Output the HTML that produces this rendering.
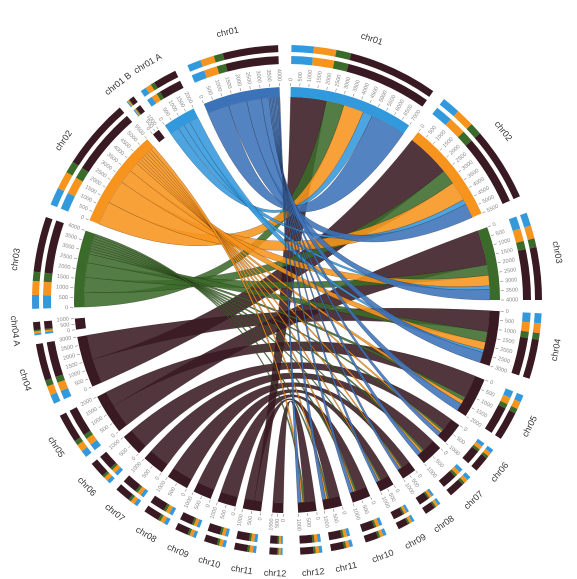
<!DOCTYPE html>
<html><head><meta charset="utf-8">
<style>
html,body{margin:0;padding:0;background:#fff;}
svg{display:block;font-family:"Liberation Sans",sans-serif;}
</style></head>
<body>
<svg id="chart" width="577" height="579" viewBox="0 0 577 579" xmlns="http://www.w3.org/2000/svg"></svg>
<script>
const segNames = ["chr01","chr02","chr03","chr04","chr05","chr06","chr07","chr08","chr09","chr10","chr11","chr12",
 "chr12","chr11","chr10","chr09","chr08","chr07","chr06","chr05","chr04","chr04 A","chr03","chr02","chr01 B","chr01 A","chr01"];
const segStart = [1,38,70,93,112,126,134,143,150,157,165,172, 181,187,194,201,208,216,224,232,246,262,268,292,321,325,337];
const segEnd   = [35,66,90,108,123,132,140,147,154,162,170,177, 184,192,199,206,214,222,230,243,260,265,289,319,323,334,358];
const segColor = ["#3399dd","#f7941d","#3b6b2a","#3a1a22","#3a1a22","#3a1a22","#3a1a22","#3a1a22","#3a1a22","#3a1a22","#3a1a22","#3a1a22",
 "#3a1a22","#3a1a22","#3a1a22","#3a1a22","#3a1a22","#3a1a22","#3a1a22","#3a1a22","#3a1a22","#3a1a22","#3b6b2a","#f7941d","#3a1a22","#3399dd","#3b72b8"];
const linkSrc  = [0,1,2,3,4,5,6,7,8,9,10,11, 0,1,2,3,4,5,6,7,8,9,10,11, 0,1,2,3,4,5,6,7,8,9,10,11, 0,1,2,3, 0,1,2,3,4,5,6,7,8,9,10,11];
const linkSrcA = [0,0,0,0,0,0,0,0,0,0,0,0, 0.3,0.45,0.5,0.4,0.6,0.6,0.6,0.6,0.6,0.6,0.6,0.6, 0.45,0.6,0.65,0.6,0.7,0.7,0.7,0.7,0.7,0.7,0.7,0.7, 0.62,0.8,0.8,0.75, 0.7,0.85,0.85,0.8,0.8,0.8,0.8,0.8,0.8,0.8,0.8,0.8];
const linkSrcB = [0.3,0.45,0.5,0.4,0.6,0.6,0.6,0.6,0.6,0.6,0.6,0.6, 0.45,0.6,0.65,0.6,0.7,0.7,0.7,0.7,0.7,0.7,0.7,0.7, 0.62,0.8,0.8,0.75,0.8,0.8,0.8,0.8,0.8,0.8,0.8,0.8, 0.7,0.85,0.85,0.8, 1,1,1,1,1,1,1,1,1,1,1,1];
const linkTgt  = [13,20,19,20,19,18,17,16,15,14,13,12, 22,22,22,22,22,22,22,22,22,22,22,22, 23,23,23,23,23,23,23,23,23,23,23,23, 25,25,25,25, 26,26,26,26,26,26,26,26,26,26,26,26];
const linkTgtA = [0,0,0,0.5,0.6,0,0,0,0,0,0.45,0, 0,0.2,0.4,0.6,0.72,0.76,0.795,0.83,0.865,0.9,0.935,0.97, 0,0.25,0.5,0.65,0.75,0.78,0.81,0.84,0.87,0.9,0.93,0.96, 0,0.3,0.5,0.7, 0,0.3,0.55,0.75,0.85,0.87,0.89,0.91,0.93,0.95,0.97,0.985];
const linkTgtB = [0.45,0.5,0.6,1,1,1,1,1,1,1,1,1, 0.2,0.4,0.6,0.72,0.76,0.795,0.83,0.865,0.9,0.935,0.97,1, 0.25,0.5,0.65,0.75,0.78,0.81,0.84,0.87,0.9,0.93,0.96,1, 0.3,0.5,0.7,1, 0.3,0.55,0.75,0.85,0.87,0.89,0.91,0.93,0.95,0.97,0.985,1];
const linkKind = ["M","M","M","M","M","M","M","M","M","M","M","M", "G","G","G","G","G","G","G","G","G","G","G","G", "O","O","O","O","O","O","O","O","O","O","O","O", "L","L","L","L", "B","B","B","B","B","B","B","B","B","B","B","B"];
const kindColor = {M:"#3a1a22",G:"#3b6b2a",O:"#f7941d",L:"#3399dd",B:"#3b72b8"};
const ringColors = ["#3399dd","#f7941d","#3b6b2a","#3a1a22"];
const ringBreaks = [0,0.15,0.3,0.4,1];

const svg = document.getElementById('chart');
const NS = "http://www.w3.org/2000/svg";
const cx = 287, cy = 300, R = 203;
function pt(a, r){ const t=(a-90)*Math.PI/180; return [cx+r*Math.cos(t), cy+r*Math.sin(t)]; }
function arcPath(a1,a2,r1,r2){
  const p1=pt(a1,r2),p2=pt(a2,r2),p3=pt(a2,r1),p4=pt(a1,r1);const lg=(a2-a1)>180?1:0;
  return `M${p1}A${r2},${r2} 0 ${lg} 1 ${p2}L${p3}A${r1},${r1} 0 ${lg} 0 ${p4}Z`;
}
function add(tag, attrs){ const e=document.createElementNS(NS,tag); for(const k in attrs) e.setAttribute(k,attrs[k]); svg.appendChild(e); return e; }
function segAngle(i,f){ return segStart[i]+(segEnd[i]-segStart[i])*f; }

const order = [];
for(let i=0;i<linkSrc.length;i++) if(linkKind[i]==="M") order.push(i);
for(let i=0;i<linkSrc.length;i++) if(linkKind[i]!=="M") order.push(i);
for(const i of order){
  const a1=segAngle(linkSrc[i],linkSrcA[i]), a2=segAngle(linkSrc[i],linkSrcB[i]);
  const b1=segAngle(linkTgt[i],linkTgtA[i]), b2=segAngle(linkTgt[i],linkTgtB[i]);
  const p1=pt(a1,R),p2=pt(a2,R),q1=pt(b1,R),q2=pt(b2,R);
  const d=`M${p1}A${R},${R} 0 0 1 ${p2}Q${cx},${cy} ${q1}A${R},${R} 0 0 1 ${q2}Q${cx},${cy} ${p1}Z`;
  const c=kindColor[linkKind[i]];
  const e=add('path',{d:d,fill:c,'fill-opacity':0.88,stroke:'#1a0a10','stroke-width':0.4,'stroke-opacity':0.5});
  
  
}
for(let i=0;i<segNames.length;i++){
  const s=segStart[i], e=segEnd[i];
  const band=add('path',{d:arcPath(s,e,R,R+10),fill:segColor[i]});
  
  
  const n=Math.max(2,Math.round((e-s)/2.5));
  for(let k=0;k<=n;k++){
    const a=s+(e-s)*k/n; const p=pt(a,R+11), q=pt(a,R+14);
    add('line',{x1:p[0],y1:p[1],x2:q[0],y2:q[1],stroke:'#666','stroke-width':0.5});
    const tp=pt(a,R+16); const rot=a<180?a-90:a+90;
    const t=add('text',{x:tp[0],y:tp[1],'font-size':5.5,fill:'#888','text-anchor':a<180?'start':'end','dominant-baseline':'middle',transform:`rotate(${rot} ${tp[0]} ${tp[1]})`});
    t.textContent=(k*500)+"";
  }
  for(let k=0;k<ringBreaks.length-1;k++){
    const a1=segAngle(i,ringBreaks[k]), a2=segAngle(i,ringBreaks[k+1]);
    add('path',{d:arcPath(a1,a2,236,244),fill:ringColors[k]});
    add('path',{d:arcPath(a1,a2,248,255),fill:ringColors[k]});
  }
  const mid=(s+e)/2; const lp=pt(mid,274);
  const lab=add('text',{x:lp[0],y:lp[1],'font-size':9,fill:'#333','text-anchor':'middle','dominant-baseline':'middle',transform:`rotate(${mid>270||mid<90?mid:mid-180} ${lp[0]} ${lp[1]})`});
  lab.textContent=segNames[i];
  
  
}
</script>
</body></html>
